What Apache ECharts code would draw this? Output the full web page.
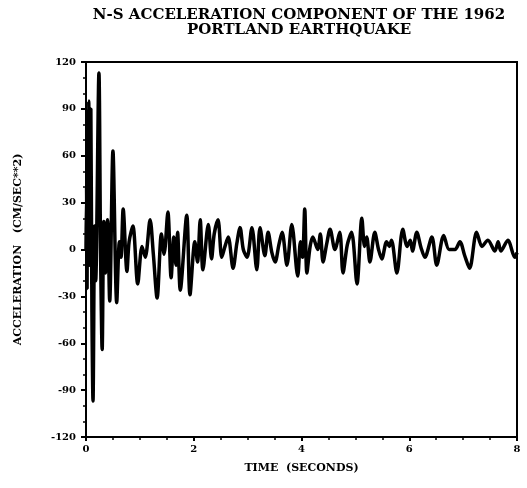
<!DOCTYPE html>
<html lang="en">
<head>
    <meta charset="UTF-8">
    <title>Portland earthquake N-S acceleration</title>
    <script type="text/javascript" src="https://cdn.jsdelivr.net/npm/echarts@6/dist/echarts.min.js"></script>
    <style>
        body { margin: 0; background: #fff; }
    </style>
</head>
<body>
<div id="container" style="height:488px;width:527px"></div>
<script>
    // time (s) and acceleration (cm/sec**2)
    var times = [0, 0.01, 0.02, 0.03, 0.05, 0.07, 0.09, 0.11, 0.13, 0.16, 0.18, 0.24, 0.27, 0.30, 0.33,
        0.36, 0.40, 0.44, 0.50, 0.57, 0.62, 0.65, 0.69, 0.76, 0.80, 0.87, 0.96, 1.04, 1.10, 1.19,
        1.25, 1.32, 1.40, 1.45, 1.52, 1.58, 1.63, 1.67, 1.70, 1.75, 1.87, 1.93, 2.02, 2.07, 2.12,
        2.17, 2.27, 2.33, 2.38, 2.45, 2.52, 2.58, 2.64, 2.73, 2.80, 2.86, 2.92, 2.99, 3.08, 3.17,
        3.23, 3.32, 3.38, 3.45, 3.51, 3.58, 3.64, 3.73, 3.82, 3.93, 3.98, 4.02, 4.06, 4.10, 4.16,
        4.21, 4.30, 4.35, 4.40, 4.47, 4.53, 4.62, 4.71, 4.77, 4.85, 4.93, 5.03, 5.12, 5.17, 5.21,
        5.27, 5.36, 5.43, 5.49, 5.58, 5.63, 5.67, 5.77, 5.88, 5.96, 6.02, 6.06, 6.14, 6.22, 6.29,
        6.42, 6.51, 6.64, 6.74, 6.85, 6.94, 7.03, 7.12, 7.25, 7.35, 7.46, 7.59, 7.65, 7.70, 7.83,
        7.96, 8.0];
    var accel = [0, 40, -25, 60, 95, -10, 90, -40, -97, 15, -20, 113, 0, -64, 18,
        -15, 19, -33, 63, -34, 5, -5, 26, -14, 5, 15, -22, 2, -5, 19,
        -3, -31, 10, -3, 24, -18, 8, -10, 11, -26, 22, -29, 5, -8, 19,
        -13, 16, -6, 10, 19, -5, 2, 8, -12, 4, 14, 0, -5, 14, -13,
        14, -4, 11, -2, -8, 3, 11, -10, 16, -17, 5, -5, 26, -15, 2,
        8, 0, 10, -8, 4, 13, 0, 11, -15, 3, 11, -22, 20, 2, 8,
        -8, 11, 0, -6, 5, 2, 6, -15, 13, 2, 6, -1, 11, 1, -5,
        8, -10, 9, 0, 0, 5, -4, -12, 11, 2, 6, -1, 5, -1, 6,
        -5, -2];

    var titleText = 'N-S ACCELERATION COMPONENT OF THE 1962\nPORTLAND EARTHQUAKE';
    var xName = 'TIME  (SECONDS)';
    var yName = 'ACCELERATION   (CM/SEC**2)';

    var points = [];
    for (var i = 0; i < times.length; i++) {
        points.push([times[i], accel[i]]);
    }

    var font = 'DejaVu Serif';
    var myChart = echarts.init(document.getElementById("container"));
    var option = {
        animation: false,
        title: {
            text: titleText,
            left: 294,
            top: 3,
            textAlign: 'center',
            textStyle: {
                fontFamily: font, fontWeight: 'bold', fontSize: 15,
                color: '#000', lineHeight: 15
            }
        },
        grid: {
            left: 86, right: 10, top: 62, bottom: 51,
            show: true, borderColor: '#000', borderWidth: 2
        },
        xAxis: {
            type: 'value',
            min: 0, max: 8, interval: 2,
            name: xName,
            nameLocation: 'middle',
            nameGap: 26,
            nameTextStyle: {fontFamily: font, fontWeight: 'bold', fontSize: 11, color: '#000'},
            axisLine: {onZero: false, lineStyle: {color: '#000', width: 2}},
            axisTick: {length: 4, lineStyle: {color: '#000', width: 2}},
            minorTick: {show: true, splitNumber: 4, length: 3, lineStyle: {color: '#000', width: 1.5}},
            axisLabel: {fontFamily: font, fontWeight: 'bold', fontSize: 10, color: '#000', margin: 7},
            splitLine: {show: false}
        },
        yAxis: {
            type: 'value',
            min: -120, max: 120, interval: 30,
            name: yName,
            nameLocation: 'middle',
            nameGap: 62,
            nameTextStyle: {fontFamily: font, fontWeight: 'bold', fontSize: 11, color: '#000'},
            axisLine: {onZero: false, lineStyle: {color: '#000', width: 2}},
            axisTick: {length: 5, lineStyle: {color: '#000', width: 2}},
            minorTick: {show: true, splitNumber: 3, length: 3, lineStyle: {color: '#000', width: 1.5}},
            axisLabel: {fontFamily: font, fontWeight: 'bold', fontSize: 10, color: '#000', margin: 10},
            splitLine: {show: false}
        },
        series: [{
            type: 'line',
            data: points,
            showSymbol: false,
            smooth: 0.3,
            lineStyle: {color: '#000', width: 3.5},
            clip: true
        }]
    };
    myChart.setOption(option, true);
</script>
</body>
</html>
